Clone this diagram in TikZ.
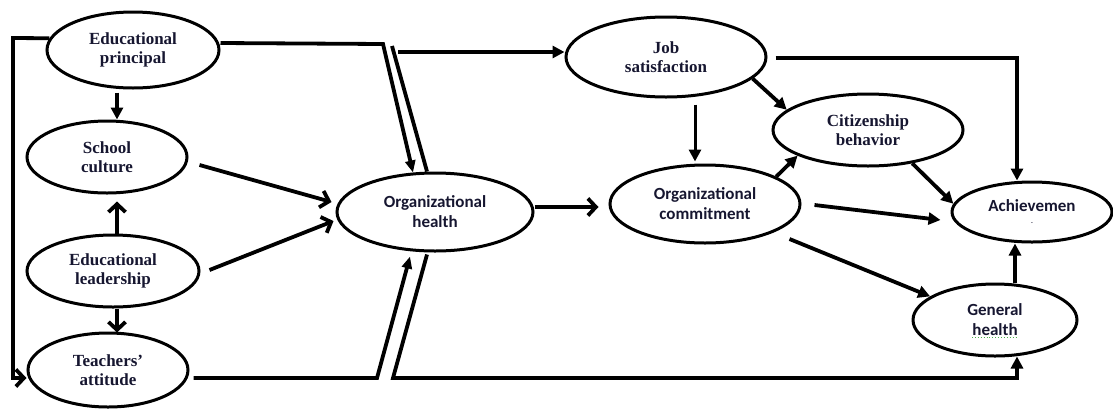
\documentclass[tikz,border=0pt]{standalone}
\usepackage{fontspec}
\setmainfont{Liberation Serif}
\newfontfamily\calib{Carlito}
\usetikzlibrary{shapes.geometric,arrows.meta}
\definecolor{ink}{RGB}{22,22,48}
\tikzset{
  oval/.style={ellipse, draw=black, line width=3pt, inner sep=0pt, align=center, text=ink},
  serif/.style={font=\fontsize{17}{18.5}\selectfont\bfseries},
  sans/.style={font=\calib\fontsize{17}{20}\selectfont\bfseries},
  conn/.style={line width=3.8pt, line join=miter},
  fill arrow/.style={conn, -{Triangle[length=12pt,width=12pt]}},
  open arrow/.style={conn, -{Straight Barb[length=8pt,width=17pt]}},
  plain/.style={conn}
}
\begin{document}
\begin{tikzpicture}[x=1pt,y=-1pt]
\useasboundingbox (0,0) rectangle (1113,408);
% nodes
\node[oval, serif, minimum width=172pt, minimum height=76pt] (ep) at (133,50) {Educational\\principal};
\node[oval, serif, minimum width=160pt, minimum height=72pt] (sc) at (107,157) {School\\culture};
\node[oval, serif, minimum width=172pt, minimum height=72pt] (el) at (113,271) {Educational\\leadership};
\node[oval, serif, minimum width=160pt, minimum height=74pt] (ta) at (108,370) {Teachers'\\attitude};
\node[oval, sans, minimum width=196pt, minimum height=78pt] (oh) at (435,212) {Organizational\\health};
\node[oval, serif, minimum width=200pt, minimum height=80pt] (js) at (666,57) {Job\\satisfaction};
\node[oval, sans, minimum width=190pt, minimum height=78pt] (oc) at (705,204) {Organizational\\commitment};
\node[oval, serif, minimum width=190pt, minimum height=72pt] (cb) at (868,130) {Citizenship\\behavior};
\node[oval, sans, minimum width=160pt, minimum height=60pt] (ach) at (1032,212) {Achievemen\\[-8pt]{\fontsize{7}{7}\selectfont .}};
\node[oval, sans, minimum width=164pt, minimum height=72pt] (gh) at (995,320) {General\\health};
% green dotted underline
\draw[green!55!black!70, line width=0.9pt, dotted] (972,337) -- (1018,337);
% coordinates
\coordinate (lA) at (13,38);
\coordinate (lB) at (13,378);
\coordinate (k1) at (383,44);
\coordinate (k2) at (392,46);
\coordinate (k3) at (398,52);
\coordinate (k4) at (377,378);
\coordinate (k5) at (393,378);
\coordinate (k6) at (1017,378);
\coordinate (k7) at (1017,58);
% connectors
\draw[open arrow] (ep.172) -- (lA) -- (lB) -- (ta.west |- lB);
\draw[fill arrow] ([xshift=-16pt,yshift=-3pt]ep.south) -- ([xshift=10pt]sc.north);
\draw[open arrow] ([xshift=4pt]el.north) -- ([xshift=10pt,yshift=-7pt]sc.south);
\draw[open arrow] ([xshift=4pt]el.south) -- ([xshift=9pt,yshift=-1pt]ta.north);
\draw[open arrow] ([xshift=11pt,yshift=-8pt]sc.east) -- ([xshift=-4pt,yshift=10pt]oh.west);
\draw[open arrow] ([xshift=9pt,yshift=1pt]el.east) -- ([xshift=-2pt,yshift=-9pt]oh.west);
\draw[fill arrow, -{Triangle[length=12pt,width=10pt]}] ([yshift=7pt]ep.east) -- (k1) -- ([xshift=-22pt,yshift=-1pt]oh.north);
\draw[plain] ([xshift=-8pt]oh.north) -- (k2);
\draw[fill arrow] (k3) -- ([yshift=5pt]js.west);
\draw[fill arrow, -{Triangle[length=12pt,width=10pt]}] ([xshift=4pt,yshift=-8pt]ta.east) -- (k4) -- ([xshift=-25pt,yshift=-4pt]oh.south);
\draw[fill arrow] ([xshift=-8pt,yshift=-2pt]oh.south) -- (k5) -- (k6) -- ([xshift=22pt,yshift=1pt]gh.south);
\draw[open arrow] ([yshift=5pt]oh.east) -- ([xshift=-10pt,yshift=-3pt]oc.west);
\draw[fill arrow, line width=3pt] ([xshift=29pt,yshift=-6pt]js.south) -- ([xshift=-10pt,yshift=2pt]oc.north);
\draw[fill arrow] (js.-14) -- (cb.166);
\draw[fill arrow] ([xshift=8pt,yshift=-1pt]js.east) -- (k7) -- ([xshift=-15pt]ach.north);
\draw[fill arrow] (oc.21) -- (cb.200);
\draw[fill arrow] (cb.-37) -- (ach.174);
\draw[fill arrow] ([xshift=13pt,yshift=-1pt]oc.east) -- ([xshift=-10pt,yshift=-8pt]ach.west);
\draw[fill arrow] ([xshift=-12pt,yshift=-35pt]oc.east) -- (gh.160);
\draw[fill arrow] ([xshift=20pt]gh.north) -- ([xshift=-17pt]ach.south);
\end{tikzpicture}
\end{document}
